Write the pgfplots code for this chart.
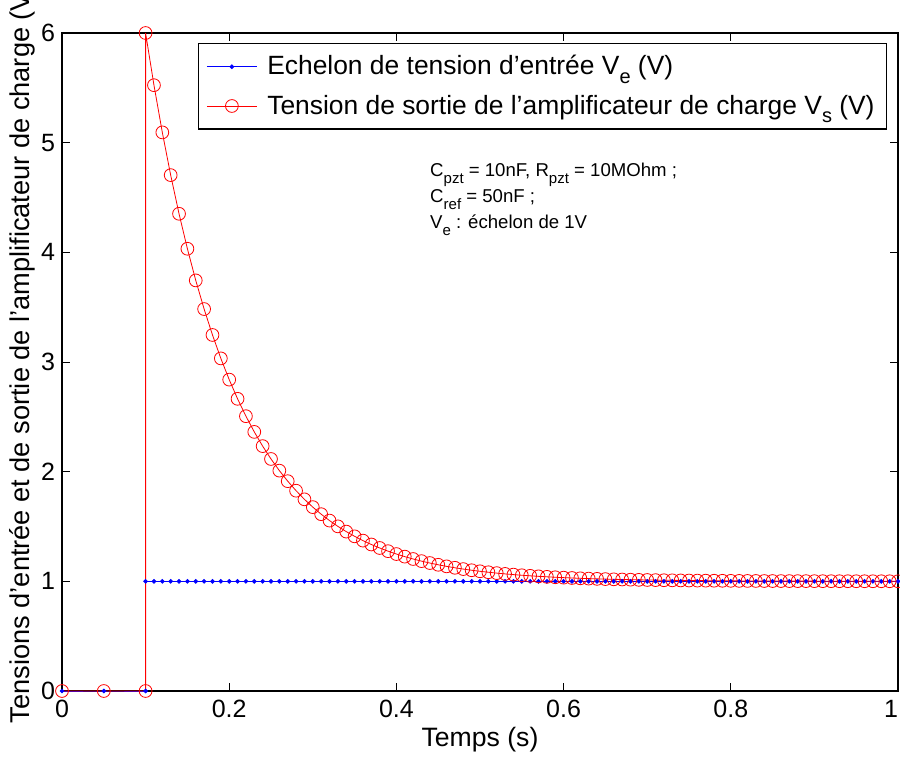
\documentclass[border=0pt]{standalone}
\usepackage{pgfplots}
\pgfplotsset{compat=1.18}
\usepackage{fontspec}
\setmainfont{Liberation Sans}
\newcommand\sub[1]{\raisebox{-0.6ex}{\fontsize{10}{10}\selectfont #1}}
\newcommand\asub[1]{\raisebox{-0.7ex}{\fontsize{7.5}{7.5}\selectfont #1}}
\begin{document}
\begin{tikzpicture}
\begin{axis}[
  at={(31pt,35.5pt)}, anchor=south west,
  scale only axis, width=418pt, height=329pt,
  xmin=0, xmax=1, ymin=0, ymax=6,
  xtick={0,0.2,0.4,0.6,0.8,1}, ytick={0,1,2,3,4,5,6},
  xticklabels={0,0.2,0.4,0.6,0.8,\makebox[0pt][r]{1}},
  tick align=inside, major tick length=4pt,
  /pgf/number format/assume math mode=true,
  tick label style={font=\fontsize{12.5}{14}\selectfont},
  xticklabel style={yshift=-1pt},
  axis line style={line width=0.6pt},
  every tick/.style={black, line width=0.5pt},
  xlabel={Temps (s)},
  ylabel={Tensions d’entrée et de sortie de l’amplificateur de charge (V)},
  every axis x label/.style={at={(axis description cs:0.5,-0.0745)},anchor=center,font=\fontsize{13.3}{15}\selectfont},
  every axis y label/.style={at={(axis description cs:-0.048,0.513)},rotate=90,anchor=center,font=\fontsize{13.6}{15}\selectfont},
  legend style={at={(0.987,0.985)}, anchor=north east, draw=black, line width=0.6pt,
    font=\fontsize{13.2}{15}\selectfont, inner xsep=4pt, inner ysep=4pt, row sep=4.5pt,
    cells={anchor=west}},
  legend cell align=left,
  legend image code/.code={\draw[mark repeat=2,mark phase=2,#1] plot coordinates {(0pt,0pt) (12.5pt,0pt) (25pt,0pt)}; \path (28pt,0pt);},
  clip=false,
]
\addplot[blue, line width=0.4pt, mark=*, mark size=0.95pt, mark options={fill=blue, draw=blue}] coordinates {
(0,0)(0.05,0)(0.1,0)(0.1,1)
(0.11,1)(0.12,1)(0.13,1)(0.14,1)(0.15,1)(0.16,1)(0.17,1)(0.18,1)(0.19,1)(0.2,1)
(0.21,1)(0.22,1)(0.23,1)(0.24,1)(0.25,1)(0.26,1)(0.27,1)(0.28,1)(0.29,1)(0.3,1)
(0.31,1)(0.32,1)(0.33,1)(0.34,1)(0.35,1)(0.36,1)(0.37,1)(0.38,1)(0.39,1)(0.4,1)
(0.41,1)(0.42,1)(0.43,1)(0.44,1)(0.45,1)(0.46,1)(0.47,1)(0.48,1)(0.49,1)(0.5,1)
(0.51,1)(0.52,1)(0.53,1)(0.54,1)(0.55,1)(0.56,1)(0.57,1)(0.58,1)(0.59,1)(0.6,1)
(0.61,1)(0.62,1)(0.63,1)(0.64,1)(0.65,1)(0.66,1)(0.67,1)(0.68,1)(0.69,1)(0.7,1)
(0.71,1)(0.72,1)(0.73,1)(0.74,1)(0.75,1)(0.76,1)(0.77,1)(0.78,1)(0.79,1)(0.8,1)
(0.81,1)(0.82,1)(0.83,1)(0.84,1)(0.85,1)(0.86,1)(0.87,1)(0.88,1)(0.89,1)(0.9,1)
(0.91,1)(0.92,1)(0.93,1)(0.94,1)(0.95,1)(0.96,1)(0.97,1)(0.98,1)(0.99,1)(1,1)
};
\addlegendentry{Echelon de tension d’entrée V\sub{e} (V)}
\addplot[red, line width=0.4pt, mark=o, mark size=3.2pt, mark options={draw=red, line width=0.4pt}] coordinates {
(0,0)(0.05,0)(0.1,0)(0.1,6.0000)
(0.11,5.5242)(0.12,5.0937)(0.13,4.7041)(0.14,4.3516)(0.15,4.0327)(0.16,3.7441)(0.17,3.4829)(0.18,3.2466)(0.19,3.0328)(0.2,2.8394)
(0.21,2.6644)(0.22,2.5060)(0.23,2.3627)(0.24,2.2330)(0.25,2.1157)(0.26,2.0095)(0.27,1.9134)(0.28,1.8265)(0.29,1.7478)(0.3,1.6767)
(0.31,1.6123)(0.32,1.5540)(0.33,1.5013)(0.34,1.4536)(0.35,1.4104)(0.36,1.3714)(0.37,1.3360)(0.38,1.3041)(0.39,1.2751)(0.4,1.2489)
(0.41,1.2252)(0.42,1.2038)(0.43,1.1844)(0.44,1.1669)(0.45,1.1510)(0.46,1.1366)(0.47,1.1236)(0.48,1.1119)(0.49,1.1012)(0.5,1.0916)
(0.51,1.0829)(0.52,1.0750)(0.53,1.0678)(0.54,1.0614)(0.55,1.0555)(0.56,1.0503)(0.57,1.0455)(0.58,1.0411)(0.59,1.0372)(0.6,1.0337)
(0.61,1.0305)(0.62,1.0276)(0.63,1.0250)(0.64,1.0226)(0.65,1.0204)(0.66,1.0185)(0.67,1.0167)(0.68,1.0151)(0.69,1.0137)(0.7,1.0124)
(0.71,1.0112)(0.72,1.0101)(0.73,1.0092)(0.74,1.0083)(0.75,1.0075)(0.76,1.0068)(0.77,1.0062)(0.78,1.0056)(0.79,1.0050)(0.8,1.0046)
(0.81,1.0041)(0.82,1.0037)(0.83,1.0034)(0.84,1.0030)(0.85,1.0028)(0.86,1.0025)(0.87,1.0023)(0.88,1.0020)(0.89,1.0019)(0.9,1.0017)
(0.91,1.0015)(0.92,1.0014)(0.93,1.0012)(0.94,1.0011)(0.95,1.0010)(0.96,1.0009)(0.97,1.0008)(0.98,1.0008)(0.99,1.0007)(1,1.0006)
};
\addlegendentry{Tension de sortie de l’amplificateur de charge V\sub{s} (V)}
\node[anchor=north west, align=left, font=\fontsize{9.3}{13}\selectfont, inner sep=0pt] at (axis cs:0.44,4.815)
  {C\asub{pzt} = 10nF, R\asub{pzt} = 10MOhm ;\\ C\asub{ref} = 50nF ;\\ V\asub{e} : échelon de 1V};
\end{axis}
\pgfresetboundingbox
\path[use as bounding box] (0,0) rectangle (450pt,381pt);
\end{tikzpicture}
\end{document}
